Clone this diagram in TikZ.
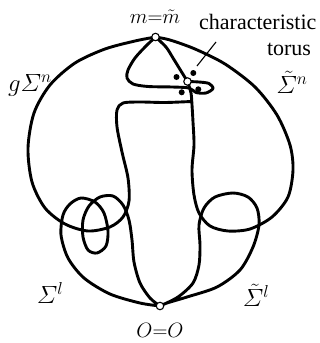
\documentclass[tikz,border=0pt]{standalone}
\usepackage{amsmath}
\usepackage[no-math]{fontspec}
\setmainfont{Liberation Serif}
\begin{document}
\begin{tikzpicture}[x=1pt,y=-1pt,
  curve/.style={line width=2.9pt, line cap=round, line join=round},
  pt/.style={circle,draw,line width=1.1pt,fill=white,inner sep=0pt,minimum size=7.5pt},
  dot/.style={circle,fill=black,inner sep=0pt,minimum size=6pt},
  lab/.style={font=\fontsize{23}{25}\selectfont, inner sep=0pt},
  txt/.style={font=\fontsize{22}{24}\selectfont, inner sep=0pt},
  mlab/.style={font=\fontsize{22.5}{24}\selectfont, inner sep=0pt}]
\useasboundingbox (0,0) rectangle (320,343);
\coordinate (m) at (155.5,37);
\coordinate (O) at (160,306);
\coordinate (t) at (187.5,81.5);
% g Sigma^n : left arc, left side of stem, top of stem
\draw[curve] plot[smooth] coordinates {(m) (135,41) (105,49) (75,63) (50,85) (34,113) (28,148) (32,182) (45,208) (65,224) (88,231) (110,227) (123,217) (129,201) (128,178) (122,152) (117,127) (117,110) (123,103) (140,102) (165,102.5) (191,101.5)};
% tilde Sigma^n : right arc, right side of stem, up to torus
\draw[curve] plot[smooth] coordinates {(m) (170,40) (195,49) (225,64) (255,87) (277,115) (290,145) (293,170) (288,197) (272,217) (250,229) (228,231) (210,226) (199,213) (194,195) (192,170) (194,145) (193,122) (192,105) (191,93) (t)};
% m to torus
\draw[curve] plot[smooth] coordinates {(m) (166,47) (173,58) (181,71) (t)};
% teardrop loop with lobe
\draw[curve] plot[smooth] coordinates {(m) (146,46) (135,58) (128,70) (127,78) (133,84) (148,86.5) (172,87) (189,88) (196,92.5) (206,93) (213,88.5) (209,83.5) (199,82) (t)};
% Sigma^l
\draw[curve] plot[smooth] coordinates {(O) (140,303) (110,294) (84,278) (68,258) (61,235) (63,215) (70,204) (81,198) (95,202) (104,213) (108,231) (106,246) (97,253) (88,250) (83,237) (83,220) (89,206) (100,197) (113,196) (123,205) (129,220) (132,240) (134,262) (140,283) (150,298) (O)};
% tilde Sigma^l
\draw[curve] plot[smooth] coordinates {(O) (167,303) (187,297) (217,287) (240,270) (253,247) (259,225) (257,208) (248,197) (233,193) (215,197) (204,208) (199,225) (200,245) (199,265) (193,283) (178,297) (O)};
% dots of the characteristic torus
\node[dot] (d1) at (176.5,77) {};
\node[dot] (d2) at (193.3,73) {};
\node[dot] (d3) at (181.7,92.3) {};
\node[dot] (d4) at (198.3,89.3) {};
% marked points
\node[pt] (mp) at (m) {};
\node[pt] (Op) at (O) {};
\node[pt] (tp) at (t) {};
% labels
\node[mlab] (ml) at (155,17) {$m{=}\tilde m$};
\node[txt, anchor=base west] (ch) at (199,29) {characteristic};
\node[txt, anchor=base] (to) at (289,55) {torus};
\coordinate (la) at (197,66);
\coordinate (lb) at (216,42);
\draw[line width=1.1pt] (la) -- (lb);
\node[lab] (gs) at (30,85) {$g\varSigma^n$};
\node[lab] (ts) at (292,82) {$\tilde{\varSigma}^n$};
\node[lab] (sl) at (50,293) {$\varSigma^l$};
\node[lab] (tsl) at (256,295) {$\tilde{\varSigma}^l$};
\node[mlab] (oo) at (160,330) {$O{=}O$};
\end{tikzpicture}
\end{document}
